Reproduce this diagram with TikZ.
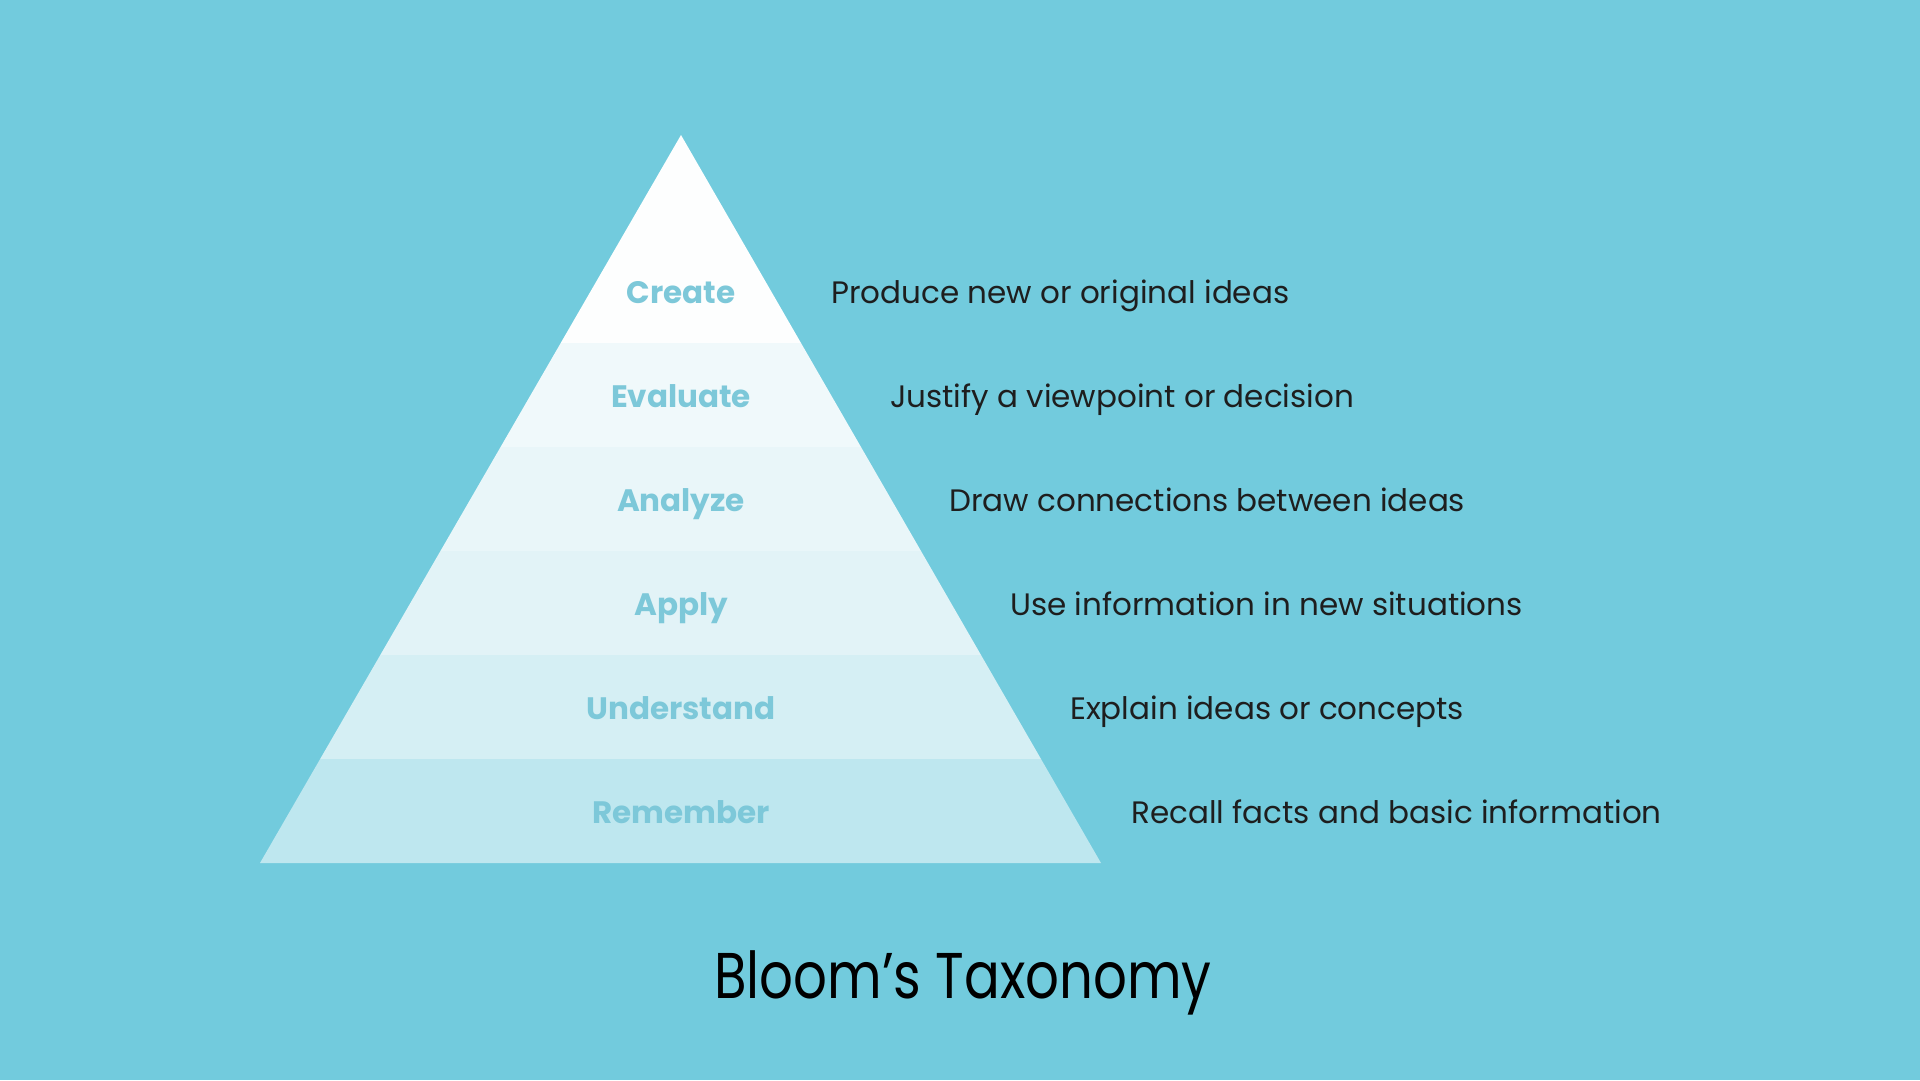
\documentclass[tikz,border=0pt]{standalone}
\usepackage{fontspec}
\setmainfont{Poppins}
\definecolor{bg}{HTML}{72CBDD}
\definecolor{bandA}{HTML}{FDFEFE}
\definecolor{bandB}{HTML}{F0F9FB}
\definecolor{bandC}{HTML}{E9F6F9}
\definecolor{bandD}{HTML}{E2F3F7}
\definecolor{bandE}{HTML}{D5EFF4}
\definecolor{bandF}{HTML}{BEE7EF}
\definecolor{lbl}{HTML}{7DC8D9}
\definecolor{ink}{HTML}{1E1E1E}
\tikzset{
  level/.style={font=\fontsize{31}{36}\selectfont\bfseries, text=lbl, anchor=base, inner sep=0pt},
  desc/.style={font=\fontsize{31}{36}\selectfont, text=ink, anchor=base west, inner sep=0pt},
  ttl/.style={font=\fontsize{53}{60}\selectfont, text=black, anchor=base, inner sep=0pt}
}
\begin{document}
\begin{tikzpicture}[x=1pt,y=-1pt]
\fill[bg] (0,0) rectangle (1920,1080);
\useasboundingbox (0,0) rectangle (1920,1080);
\coordinate (apex) at (681,135);
\coordinate (bl) at (260,863);
\coordinate (br) at (1101,863);
\begin{scope}
\clip (apex) -- (bl) -- (br) -- cycle;
\fill[bandA] (200,130) rectangle (1200,343);
\fill[bandB] (200,343) rectangle (1200,447);
\fill[bandC] (200,447) rectangle (1200,551);
\fill[bandD] (200,551) rectangle (1200,655);
\fill[bandE] (200,655) rectangle (1200,759);
\fill[bandF] (200,759) rectangle (1200,864);
\end{scope}
\node[level] (l1) at (681,303) {Create};
\node[level] (l2) at (681,407) {Evaluate};
\node[level] (l3) at (681,511) {Analyze};
\node[level] (l4) at (681,615) {Apply};
\node[level] (l5) at (681,719) {Understand};
\node[level] (l6) at (681,823) {Remember};
\node[desc] (d1) at (831,303) {Produce new or original ideas};
\node[desc] (d2) at (890,407) {Justify a viewpoint or decision};
\node[desc] (d3) at (949,511) {Draw connections between ideas};
\node[desc] (d4) at (1010,615) {Use information in new situations};
\node[desc] (d5) at (1070,719) {Explain ideas or concepts};
\node[desc] (d6) at (1131,823) {Recall facts and basic information};
\node[ttl] (title) at (963,998) {\scalebox{1}[1.22]{Bloom’s Taxonomy}};
\end{tikzpicture}
\end{document}
